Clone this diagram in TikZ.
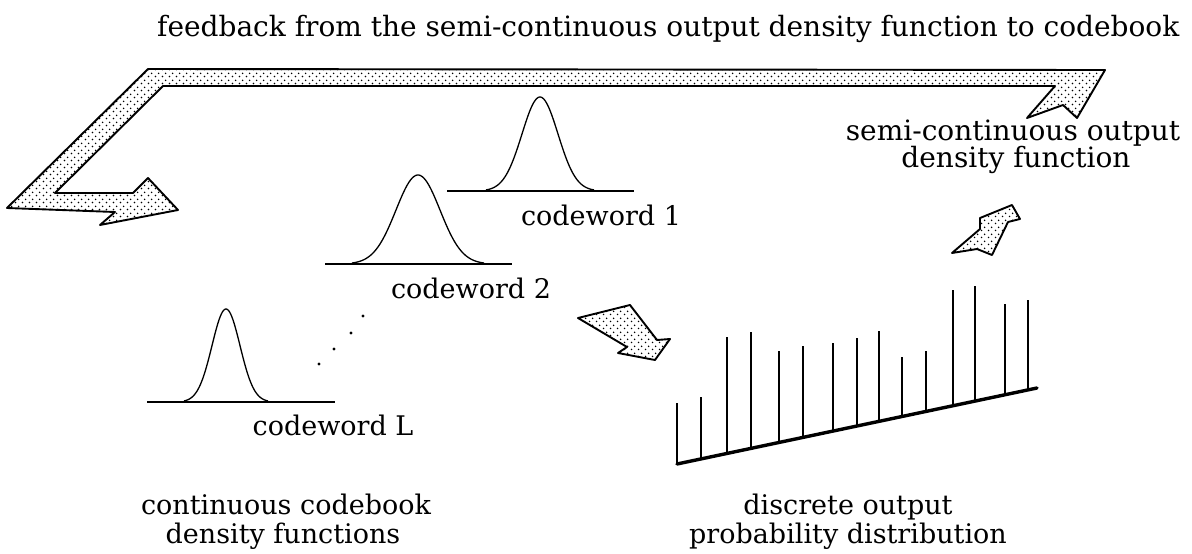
\documentclass[tikz,border=0pt]{standalone}
\usepackage{fontspec}
\setmainfont{DejaVu Serif}
\usetikzlibrary{patterns.meta}

% sparse stipple used to fill the flow arrows
\tikzdeclarepattern{
  name=stipple,
  type=uncolored,
  bounding box={(0pt,0pt) and (7pt,7pt)},
  tile size={(7pt,7pt)},
  code={
    \fill (1.75pt,1.75pt) circle (0.95pt);
    \fill (5.25pt,5.25pt) circle (0.95pt);
  }
}

\begin{document}
\begin{tikzpicture}[x=1pt,y=-1pt,
  flow/.style={draw=black, line width=1.9pt, line join=round, pattern=stipple, pattern color=black},
  bell/.style={line width=1.3pt},
  floor/.style={line width=2.6pt},
  stem/.style={line width=2.8pt},
  axisline/.style={line width=3.4pt, line cap=round},
  lbl/.style={font=\fontsize{27}{32}\selectfont, inner sep=0pt, anchor=base},
  biglbl/.style={lbl, font=\fontsize{28}{33}\selectfont}
]
\useasboundingbox (0,0) rectangle (1192,554);

% feedback arrow from the output density back to the codebook
\draw[flow] (7,208) -- (148,69) -- (1105,70) -- (1077,118) -- (1063,105)
  -- (1027,118) -- (1055,86) -- (163,86) -- (55,193) -- (133,193)
  -- (148,178) -- (178,210) -- (100,225) -- (115,212) -- cycle;

% arrow from the codebook to the discrete distribution
\draw[flow] (578,318) -- (630,305) -- (657,340) -- (670,339) -- (655,360)
  -- (618,353) -- (627,347) -- cycle;

% arrow from the distribution up to the semi-continuous density
\draw[flow] (952,253) -- (980,229) -- (980,218) -- (1012,205) -- (1020,219)
  -- (1008,222) -- (992,255) -- (977,249) -- cycle;

% codeword 1
\draw[floor] (447,191) -- (634,191);
\draw[bell] plot[domain=-3:3, samples=80, smooth] ({540+18*\x}, {191-94*exp(-\x*\x/2)});
% codeword 2
\draw[floor] (325,264) -- (512,264);
\draw[bell] plot[domain=-3:3, samples=80, smooth] ({418+22*\x}, {264-89*exp(-\x*\x/2)});
% codeword L
\draw[floor] (147,402) -- (335,402);
\draw[bell] plot[domain=-3:3, samples=80, smooth] ({226+14*\x}, {402-93*exp(-\x*\x/2)});

% ellipsis between codeword 2 and codeword L
\foreach \px/\py in {363/316, 351/333, 334/349, 319/364}
  \fill (\px,\py) circle (1.6pt);

% discrete output probability distribution
\draw[axisline] (677,464) -- (1037,388);
\foreach \bx/\by in {677/403, 701/397, 727/337, 751/332, 779/351, 803/346,
                     833/343, 857/338, 879/331, 902/357, 926/351, 953/290,
                     975/286, 1005/304, 1028/300}
  \draw[stem] (\bx,\by) -- (\bx,{464-(\bx-677)*0.2111});

% labels
\node[biglbl, anchor=base west] (title) at (157,36) {feedback from the semi-continuous output density function to codebook};
\node[biglbl] (semiA) at (1013,140) {semi-continuous output};
\node[biglbl] (semiB) at (1016,167) {density function};
\node[lbl] (cw1) at (601,225) {codeword 1};
\node[lbl] (cw2) at (471,298) {codeword 2};
\node[lbl] (cwL) at (333,435) {codeword L};
\node[lbl] (contA) at (286,514) {continuous codebook};
\node[lbl] (contB) at (283,543) {density functions};
\node[lbl] (discA) at (848,514) {discrete output};
\node[lbl] (discB) at (848,543) {probability distribution};
\end{tikzpicture}
\end{document}
